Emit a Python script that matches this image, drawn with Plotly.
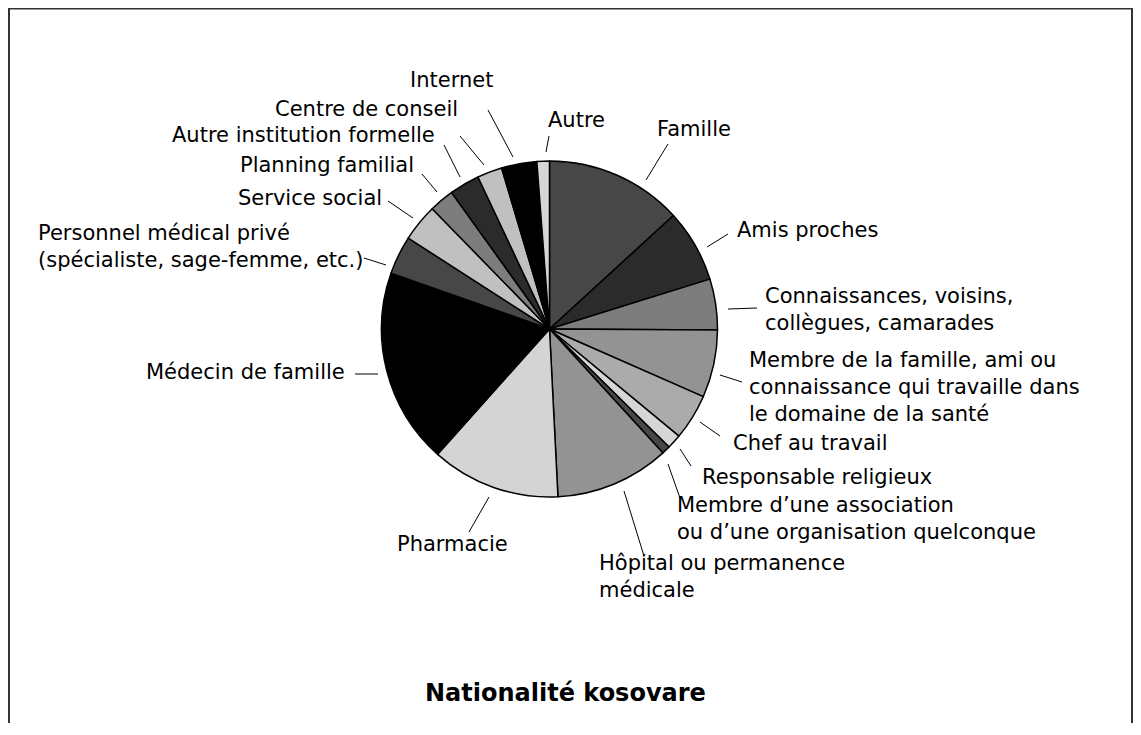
import plotly.graph_objects as go

# slices, clockwise from 12 o'clock
CATEGORIES = [
    "Famille",
    "Amis proches",
    "Connaissances, voisins, collègues, camarades",
    "Membre de la famille, ami ou connaissance qui travaille dans le domaine de la santé",
    "Chef au travail",
    "Responsable religieux",
    "Membre d’une association ou d’une organisation quelconque",
    "Hôpital ou permanence médicale",
    "Pharmacie",
    "Médecin de famille",
    "Personnel médical privé (spécialiste, sage-femme, etc.)",
    "Service social",
    "Planning familial",
    "Autre institution formelle",
    "Centre de conseil",
    "Internet",
    "Autre",
]
SHARES = [13.2, 7.0, 4.9, 6.5, 4.4, 1.4, 0.8, 11.0, 12.4, 18.8,
          3.7, 3.6, 2.4, 2.9, 2.4, 3.4, 1.2]
GREYS = ["#474747", "#2b2b2b", "#7d7d7d", "#939393", "#ababab", "#d6d6d6",
         "#474747", "#939393", "#d4d4d4", "#000000", "#474747", "#c0c0c0",
         "#7d7d7d", "#2b2b2b", "#c0c0c0", "#000000", "#d6d6d6"]
TITLE = "Nationalité kosovare"

# label layout in page pixels: text lines, anchor x, first line y, xanchor, leader line
LABELS = [
    (["Famille"], 655, 129, "left", (646, 180, 668, 144)),
    (["Amis proches"], 735, 230, "left", (707, 247, 728, 234)),
    (["Connaissances, voisins,", "collègues, camarades"], 763, 296, "left", (728, 309, 757, 308)),
    (["Membre de la famille, ami ou", "connaissance qui travaille dans",
      "le domaine de la santé"], 747, 360, "left", (720, 375, 742, 382)),
    (["Chef au travail"], 731, 443, "left", (700, 422, 720, 436)),
    (["Responsable religieux"], 700, 477, "left", (680, 449, 691, 466)),
    (["Membre d’une association", "ou d’une organisation quelconque"], 675, 505, "left",
     (668, 464, 680, 498)),
    (["Hôpital ou permanence", "médicale"], 597, 563, "left", (624, 491, 644, 556)),
    (["Pharmacie"], 452, 544, "center", (489, 497, 469, 532)),
    (["Médecin de famille"], 347, 372, "right", (355, 374, 378, 374)),
    (["Personnel médical privé", "(spécialiste, sage-femme, etc.)"], 36, 233, "left",
     (364, 258, 386, 265)),
    (["Service social"], 384, 198, "right", (388, 201, 413, 218)),
    (["Planning familial"], 416, 165, "right", (422, 174, 437, 192)),
    (["Autre institution formelle"], 437, 135, "right", (444, 145, 460, 177)),
    (["Centre de conseil"], 460, 109, "right", (460, 136, 484, 165)),
    (["Internet"], 451, 80, "center", (488, 110, 513, 157)),
    (["Autre"], 546, 120, "left", (549, 136, 546, 152)),
]

OFF = 8            # body margin of the html page
W, H = 1141 - 2 * OFF, 735 - 2 * OFF - 4
CX, CY, R = 549.5 - OFF, 329 - OFF, 168
FONT = "DejaVu Sans"
LINE_H = 27

fig = go.Figure()
fig.add_trace(go.Pie(
    labels=CATEGORIES,
    values=SHARES,
    sort=False,
    direction="clockwise",
    rotation=0,
    textinfo="none",
    hoverinfo="label+percent",
    marker=dict(colors=GREYS, line=dict(color="black", width=1.5)),
    domain=dict(x=[(CX - R) / W, (CX + R) / W],
                y=[(H - CY - R) / H, (H - CY + R) / H]),
    showlegend=False,
))

shapes = [dict(type="rect", xref="x", yref="y", x0=1, y0=0.5, x1=W - 1, y1=H + 20,
               line=dict(color="#333333", width=2))]
annotations = []
for lines, x, y, anchor, (x0, y0, x1, y1) in LABELS:
    shapes.append(dict(type="line", xref="x", yref="y",
                       x0=x0 - OFF, y0=y0 - OFF, x1=x1 - OFF, y1=y1 - OFF,
                       line=dict(color="black", width=1)))
    for i, line in enumerate(lines):
        annotations.append(dict(
            x=x - OFF, y=y - OFF + i * LINE_H, xref="x", yref="y",
            text=line, showarrow=False, xanchor=anchor, yanchor="middle",
            font=dict(family=FONT, size=21, color="black"),
        ))

annotations.append(dict(
    x=565 - OFF, y=693 - OFF, xref="x", yref="y", text="<b>" + TITLE + "</b>",
    showarrow=False, xanchor="center", yanchor="middle",
    font=dict(family=FONT, size=24, color="black"),
))

fig.update_layout(
    width=W,
    height=H,
    margin=dict(l=0, r=0, t=0, b=0),
    paper_bgcolor="white",
    plot_bgcolor="white",
    xaxis=dict(range=[0, W], visible=False, fixedrange=True),
    yaxis=dict(range=[H, 0], visible=False, fixedrange=True),
    shapes=shapes,
    annotations=annotations,
)

fig.write_html("out.html")
